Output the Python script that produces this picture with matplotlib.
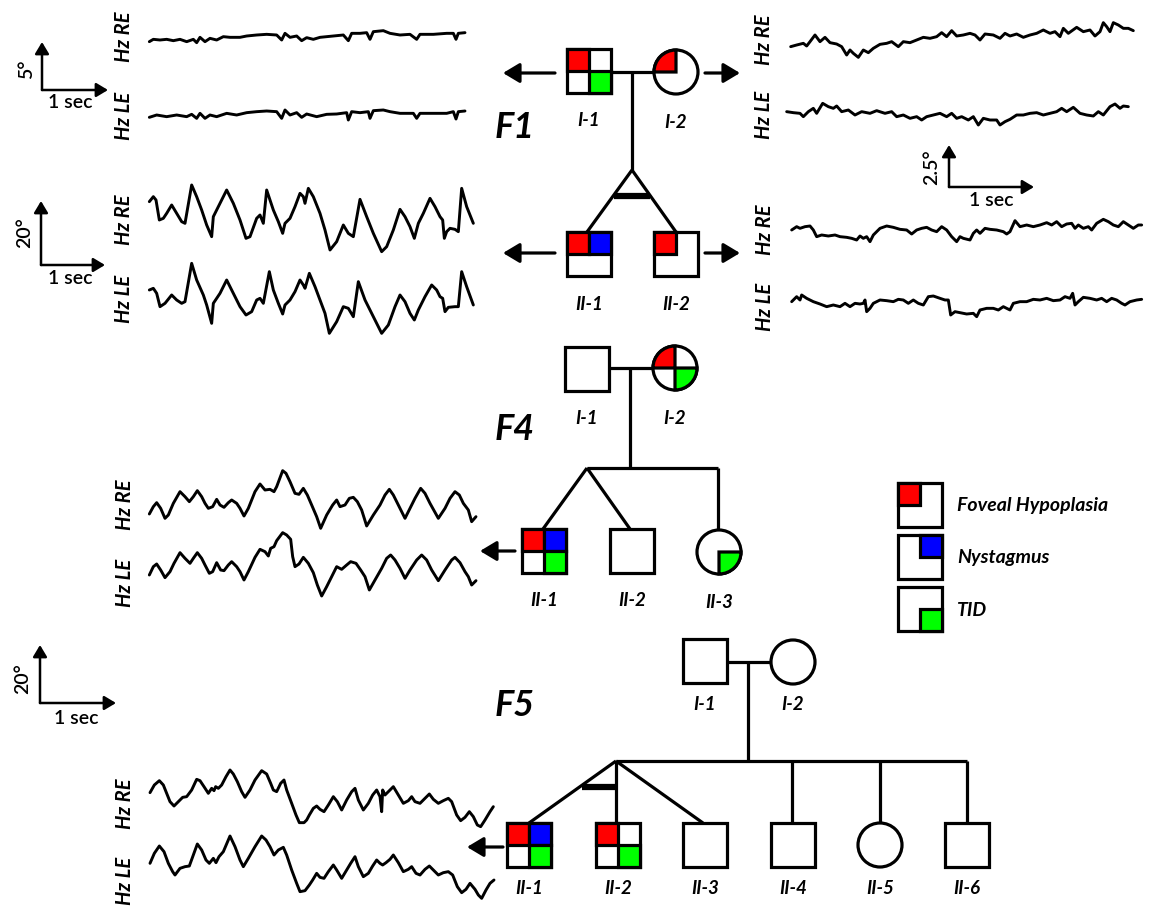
import matplotlib
matplotlib.use('Agg')
import matplotlib.pyplot as plt
from matplotlib.patches import Rectangle, Circle, Wedge

# ---------------- DATA ----------------
# Eye-movement recordings (sample index, horizontal position in screen units, downward positive)
f1_i1_re_t = [448,460,480,500,520,540,560,580,590,600,615,630,650,670,690,720,740,770,800,830,
              845,855,870,890,905,920,940,960,1000,1030,1045,1055,1080,1100,1110,1120,1150,1170,1200,1230,
              1250,1260,1300,1340,1360,1368,1375,1395]
f1_i1_re_v = [125,118,120,118,122,118,125,118,128,112,125,115,120,110,112,112,108,105,103,105,
              120,100,112,108,122,113,118,112,108,105,122,100,100,98,118,95,92,100,105,103,
              118,103,103,100,100,118,100,98]
f1_i1_le_t = [448,470,500,530,560,575,590,600,615,630,650,680,710,740,770,800,830,845,855,870,
              890,905,920,950,980,1010,1040,1045,1055,1080,1105,1110,1120,1150,1170,1200,1240,1250,1260,1300,
              1340,1360,1368,1375,1395]
f1_i1_le_v = [352,345,350,345,350,343,355,340,355,345,350,340,345,338,335,333,335,355,330,345,
              338,352,342,350,343,342,338,360,335,338,335,355,332,330,335,340,340,355,340,340,
              340,335,357,335,333]

f1_ii1_re_t = [448,460,468,478,490,500,515,530,545,555,575,590,605,620,635,640,660,680,700,720,
               738,750,770,780,790,800,820,835,848,855,870,885,900,910,915,925,940,960,975,990,
               1010,1030,1045,1060,1080,1100,1120,1145,1160,1180,1200,1215,1230,1243,1255,1270,1290,1305,1320,1328,
               1333,1340,1350,1365,1375,1385,1400,1420]
f1_ii1_re_v = [95,80,90,150,145,130,105,130,155,160,45,80,120,165,200,140,100,60,100,150,
               205,200,145,135,160,60,120,155,190,160,145,110,70,80,100,55,80,130,180,240,
               215,165,190,200,88,140,190,245,230,180,118,140,170,205,160,130,85,110,140,150,
               205,185,175,178,185,55,110,160]
f1_ii1_le_t = [448,460,470,480,495,515,530,545,555,575,590,610,620,635,640,660,680,700,720,738,
               755,770,780,790,808,820,835,848,855,870,885,900,910,915,928,945,960,975,988,1010,
               1030,1045,1060,1075,1095,1120,1145,1165,1185,1200,1215,1230,1243,1255,1275,1295,1310,1320,1328,1335,
               1345,1365,1375,1385,1400,1420]
f1_ii1_le_v = [360,355,370,410,400,375,390,400,395,280,330,375,405,460,400,370,330,370,410,435,
               425,390,385,400,305,360,400,432,405,390,365,330,345,355,310,350,390,430,490,455,
               410,415,440,335,390,440,490,465,410,375,395,430,450,420,380,345,360,380,385,425,
               412,410,410,305,350,405]

f1_i2_re_t = [62,80,100,110,120,135,150,165,180,200,215,230,240,250,265,280,295,310,330,350,
              365,385,400,420,440,460,480,500,515,530,545,560,580,600,615,630,645,670,690,705,
              720,740,760,780,800,820,840,855,870,880,895,920,940,960,975,990,1000,1010,1020,1030,
              1045,1060,1075,1090]
f1_i2_re_v = [140,135,130,138,125,105,125,112,128,132,140,165,150,160,172,150,158,145,133,130,
              125,140,125,128,120,112,115,110,98,110,92,108,105,100,105,120,102,105,115,100,
              108,102,112,105,100,90,100,95,110,85,100,82,95,90,108,95,68,80,95,68,
              75,85,85,92]
f1_i2_le_t = [50,70,90,100,115,130,140,158,175,190,200,215,235,255,275,300,320,345,365,380,
              400,420,440,455,470,490,510,530,545,560,575,595,610,625,640,660,680,690,705,720,
              740,760,780,800,820,840,860,875,890,910,930,950,970,985,1000,1020,1035,1050,1060,1075]
f1_i2_le_v = [335,338,340,350,335,325,340,310,320,325,318,335,330,345,335,340,332,340,335,350,
              345,355,350,360,350,345,340,350,340,355,350,360,350,375,355,360,360,375,365,358,
              345,345,340,338,345,340,335,325,335,322,340,345,348,335,345,320,312,325,318,320]

f1_ii2_re_t = [155,170,180,195,210,220,230,245,265,285,300,320,335,350,360,370,380,390,400,420,
               440,460,480,500,515,530,545,560,575,590,605,620,635,650,660,670,690,700,710,720,
               735,750,770,790,800,810,825,840,860,880,900,920,935,950,965,980,995,1005,1015,1030,
               1045,1055,1070,1090,1105,1120,1135,1150,1165,1180,1195,1205]
f1_ii2_re_v = [300,290,295,290,288,300,320,315,318,315,320,322,325,330,318,325,320,335,315,295,
               288,292,298,300,312,300,295,292,300,305,290,300,320,335,320,325,330,310,300,310,
               295,298,300,305,312,305,272,290,285,290,285,278,285,275,290,282,280,295,285,295,
               290,300,280,268,275,285,290,275,285,295,285,285]
f1_ii2_le_t = [155,170,180,185,200,220,240,260,280,300,315,330,345,360,370,375,380,390,400,420,
               440,460,475,490,505,520,535,550,565,580,600,615,625,632,645,660,680,700,710,720,
               740,760,775,790,810,820,840,860,880,900,920,940,960,975,990,998,1005,1015,1030,1050,
               1070,1085,1100,1115,1130,1145,1155,1170,1190,1205]
f1_ii2_le_v = [515,500,510,495,505,515,522,530,525,530,520,530,520,522,520,510,545,535,520,510,
               512,515,508,510,520,510,520,525,500,498,505,510,510,555,545,548,552,550,560,540,
               535,535,540,530,540,520,515,515,508,510,505,512,510,500,505,490,525,515,502,505,
               510,505,515,505,510,520,525,515,510,508]

f4_ii1_re_t = [148,160,170,182,195,205,220,240,255,268,280,292,305,315,325,338,350,360,372,385,
               395,410,420,432,445,465,480,495,510,522,530,548,558,570,585,597,610,622,635,650,
               662,680,698,710,720,735,748,760,772,785,800,820,840,855,868,880,895,915,930,945,
               962,975,990,1015,1035,1050,1065,1078,1090,1105,1115,1128]
f4_ii1_re_v = [192,170,158,175,205,195,160,125,140,155,140,122,140,160,175,170,148,165,172,158,
               150,160,175,198,175,125,102,120,118,125,110,62,70,95,130,133,115,135,165,200,
               235,195,165,150,170,165,145,142,155,180,228,195,165,135,118,135,165,205,175,145,
               115,130,160,205,175,145,125,135,160,180,215,200]
f4_ii1_le_t = [148,160,170,182,195,210,222,240,255,270,280,292,305,315,328,338,350,362,372,385,
               395,410,420,432,445,465,480,495,505,512,522,530,548,560,572,578,585,597,610,625,
               640,652,665,680,695,710,725,740,752,768,782,795,808,825,845,860,872,885,900,915,
               930,950,965,980,995,1015,1035,1055,1065,1080,1095,1105,1115,1128]
f4_ii1_le_v = [375,350,342,360,383,365,340,308,325,340,325,308,325,345,370,365,338,360,362,345,
               335,350,365,390,365,322,298,305,318,295,290,272,248,255,268,320,350,342,322,340,
               368,405,438,410,380,350,358,345,335,340,360,380,420,390,355,325,315,330,355,385,
               360,330,315,330,360,392,360,330,322,338,365,380,405,392]

f5_ii1_re_t = [150,163,178,190,200,210,222,235,248,260,275,290,300,312,325,335,342,347,355,365,
               378,390,400,412,425,435,450,465,485,500,512,520,530,542,552,560,575,588,598,612,
               620,628,640,650,660,672,685,700,712,725,740,755,765,775,790,805,818,830,840,845,
               848,855,865,880,895,910,925,935,945,960,975,988,1000,1015,1030,1045,1055,1070,1082,1095,
               1108,1120,1132,1142,1155,1170,1180]
f5_ii1_re_v = [158,135,122,135,160,185,198,185,172,170,150,118,122,140,160,145,152,140,145,135,
               110,90,102,125,155,172,150,120,92,102,130,150,155,130,120,150,190,225,248,248,
               240,225,205,198,208,215,195,170,185,210,180,155,145,180,210,190,165,150,170,215,
               150,165,155,140,165,190,182,170,185,190,175,162,178,190,182,175,185,225,242,232,
               215,230,255,260,240,215,200]
f5_ii1_le_t = [150,163,178,192,205,218,225,240,255,268,280,292,305,318,328,340,348,357,370,390,
               405,420,430,445,465,485,498,510,522,535,550,560,575,590,600,615,628,638,650,660,
               672,685,700,710,725,740,752,765,775,790,805,818,830,840,848,858,870,880,895,910,
               925,935,948,960,975,988,1000,1015,1030,1045,1058,1072,1085,1098,1110,1125,1135,1145,1158,1170,
               1182]
f5_ii1_le_v = [370,340,318,335,370,395,405,385,380,378,345,312,330,360,370,355,368,350,335,288,
               320,360,380,355,320,288,300,320,345,330,322,345,390,430,455,452,435,420,400,412,
               415,395,375,390,415,390,370,350,380,410,400,378,360,370,375,368,358,345,368,395,
               388,380,400,405,388,378,390,405,398,395,405,440,458,448,430,448,465,475,450,430,
               420]

# Pedigree members: label, sex, features (FH = foveal hypoplasia, NY = nystagmus, TID)
f1_labels = ['I-1', 'I-2', 'II-1', 'II-2']
f1_sex = ['M', 'F', 'M', 'M']
f1_feat = [['FH', 'TID'], ['FH'], ['FH', 'NY'], ['FH']]

f4_labels = ['I-1', 'I-2', 'II-1', 'II-2', 'II-3']
f4_sex = ['M', 'F', 'M', 'M', 'F']
f4_feat = [[], ['FH', 'TID'], ['FH', 'NY', 'TID'], [], ['TID']]

f5_labels = ['I-1', 'I-2', 'II-1', 'II-2', 'II-3', 'II-4', 'II-5', 'II-6']
f5_sex = ['M', 'F', 'M', 'M', 'M', 'M', 'F', 'M']
f5_feat = [[], [], ['FH', 'NY', 'TID'], ['FH', 'TID'], [], [], [], []]

legend_labels = ['Foveal Hypoplasia', 'Nystagmus', 'TID']
legend_feat = ['FH', 'NY', 'TID']

# ---------------- STYLE ----------------
FEAT_COLOR = {'FH': '#ff0000', 'NY': '#0000ff', 'TID': '#00ff00'}
FEAT_QUAD = {'FH': 'TL', 'NY': 'TR', 'TID': 'BR'}
FONT = 'Lato'
LW = 2.3
TLW = 2.1

W, H = 1152, 908
fig = plt.figure(figsize=(W / 100, H / 100), dpi=100)
ax = fig.add_axes([0, 0, 1, 1])
ax.set_xlim(0, W)
ax.set_ylim(H, 0)
ax.axis('off')


def txt(x, y, s, size=13, rot=0, weight='bold', italic=True, ha='center'):
    ax.text(x, y, s, ha=ha, va='center', rotation=rot, fontfamily=FONT,
            fontweight=weight, fontstyle='italic' if italic else 'normal',
            fontsize=size, color='black')


def line(xs, ys, lw=LW):
    ax.plot(xs, ys, color='black', lw=lw, solid_capstyle='butt', zorder=2)


def arrow(x0, y0, x1, y1, scale=20, lw=LW):
    ax.annotate('', xy=(x1, y1), xytext=(x0, y0),
                arrowprops=dict(arrowstyle='-|>,head_length=0.5,head_width=0.3',
                                lw=lw, color='black', mutation_scale=scale,
                                shrinkA=0, shrinkB=0), zorder=3)


def square(cx, cy, feats, r=22):
    ax.add_patch(Rectangle((cx - r, cy - r), 2 * r, 2 * r, fc='white', ec='black', lw=LW, zorder=4))
    offs = {'TL': (-r, -r), 'TR': (0, -r), 'BL': (-r, 0), 'BR': (0, 0)}
    for f in feats:
        dx, dy = offs[FEAT_QUAD[f]]
        ax.add_patch(Rectangle((cx + dx, cy + dy), r, r, fc=FEAT_COLOR[f], ec='black', lw=LW, zorder=5))


def circle(cx, cy, feats, r=22):
    ax.add_patch(Circle((cx, cy), r, fc='white', ec='black', lw=LW, zorder=4))
    ang = {'TL': (180, 270), 'TR': (270, 360), 'BL': (90, 180), 'BR': (0, 90)}
    for f in feats:
        a0, a1 = ang[FEAT_QUAD[f]]
        ax.add_patch(Wedge((cx, cy), r, a0, a1, fc=FEAT_COLOR[f], ec='black', lw=LW, zorder=5))


def member(cx, cy, sex, feats):
    if sex == 'M':
        square(cx, cy, feats)
    else:
        circle(cx, cy, feats)


def draw_family(pos, labels, sex, feats, label_dy=50):
    for (cx, cy), lab, s, f in zip(pos, labels, sex, feats):
        member(cx, cy, s, f)
        txt(cx, cy + label_dy, lab, size=13.5)


# ---------------- F1 pedigree ----------------
line([611, 654], [72, 72])
line([632, 632], [72, 170])
line([632, 587], [170, 232])
line([632, 676], [170, 232])
ax.plot([614, 650], [196, 196], color='black', lw=4.5, solid_capstyle='butt', zorder=2)
draw_family([(589, 71), (676, 72), (589, 254), (676, 254)], f1_labels, f1_sex, f1_feat)
txt(515, 127, 'F1', size=26)
arrow(555, 73, 503, 73)
arrow(705, 73, 740, 73)
arrow(555, 253, 503, 253)
arrow(705, 253, 740, 253)

# ---------------- F4 pedigree ----------------
line([609, 653], [368, 368])
line([630, 630], [368, 468])
line([587, 718], [468, 468])
line([587, 543], [468, 529])
line([587, 630], [468, 529])
line([718, 718], [468, 530])
draw_family([(587, 369), (675, 368), (544, 551), (632, 551), (719, 552)], f4_labels, f4_sex, f4_feat)
txt(515, 430, 'F4', size=26)
arrow(515, 551, 480, 551)

# ---------------- F5 pedigree ----------------
line([727, 771], [662, 662])
line([748, 748], [662, 761])
line([616, 967], [761, 761])
line([616, 529], [761, 823])
line([616, 616], [761, 823])
line([616, 703], [761, 823])
ax.plot([582, 616], [787, 787], color='black', lw=4.5, solid_capstyle='butt', zorder=2)
line([792, 792], [761, 823])
line([880, 880], [761, 823])
line([967, 967], [761, 823])
draw_family([(705, 661), (793, 662), (529, 845), (618, 845), (705, 845), (793, 845), (880, 845), (967, 845)],
            f5_labels, f5_sex, f5_feat, label_dy=43)
txt(515, 705, 'F5', size=26)
arrow(503, 847, 467, 847)

# ---------------- Legend ----------------
for (cy, lab, f) in zip([505, 557, 609], legend_labels, legend_feat):
    square(920, cy, [f])
    txt(957, cy + 1, lab, size=14, ha='left')

# ---------------- Scale bars ----------------
def scalebar(x0, y0, ytip, xtip, vlab, vlab_xy, slab_xy):
    arrow(x0, y0, x0, ytip, scale=14, lw=1.8)
    arrow(x0, y0, xtip, y0, scale=14, lw=1.8)
    txt(vlab_xy[0], vlab_xy[1], vlab, size=14, rot=90, weight='semibold', italic=False)
    txt(slab_xy[0], slab_xy[1], '1 sec', size=14, weight='semibold', italic=False)

scalebar(42, 90, 42, 108, '5°', (27, 69), (70, 103))
scalebar(41, 265, 201, 105, '20°', (25, 233), (70, 278))
scalebar(949, 187, 145, 1034, '2.5°', (932, 167), (991, 200))
scalebar(40, 703, 645, 116, '20°', (23, 679), (76, 718))

# ---------------- Trace labels ----------------
for (x, y, s) in [(124, 37, 'Hz RE'), (124, 116, 'Hz LE'), (124, 220, 'Hz RE'), (124, 299, 'Hz LE'),
                  (764, 40, 'Hz RE'), (764, 115, 'Hz LE'), (765, 230, 'Hz RE'), (765, 307, 'Hz LE'),
                  (125, 505, 'Hz RE'), (125, 583, 'Hz LE'), (125, 804, 'Hz RE'), (125, 881, 'Hz LE')]:
    txt(x, y, s, size=14.5, rot=90)


# ---------------- Traces ----------------
def panel(x0, y0, w, h):
    a = fig.add_axes([x0 / W, 1 - (y0 + h) / H, w / W, h / H])
    a.set_xlim(0, 3 * w)
    a.set_ylim(3 * h, 0)
    a.axis('off')
    a.patch.set_alpha(0)
    return a

traces = [
    ((0, 0, 480, 150), [(f1_i1_re_t, f1_i1_re_v), (f1_i1_le_t, f1_i1_le_v)]),
    ((0, 170, 480, 170), [(f1_ii1_re_t, f1_ii1_re_v), (f1_ii1_le_t, f1_ii1_le_v)]),
    ((770, 0, 382, 140), [(f1_i2_re_t, f1_i2_re_v), (f1_i2_le_t, f1_i2_le_v)]),
    ((740, 130, 412, 200), [(f1_ii2_re_t, f1_ii2_re_v), (f1_ii2_le_t, f1_ii2_le_v)]),
    ((100, 450, 400, 170), [(f4_ii1_re_t, f4_ii1_re_v), (f4_ii1_le_t, f4_ii1_le_v)]),
    ((100, 740, 400, 170), [(f5_ii1_re_t, f5_ii1_re_v), (f5_ii1_le_t, f5_ii1_le_v)]),
]
for box, series in traces:
    a = panel(*box)
    for t, v in series:
        a.plot(t, v, color='black', lw=TLW, solid_joinstyle='round', solid_capstyle='round')

fig.savefig('out.png', dpi=100)
